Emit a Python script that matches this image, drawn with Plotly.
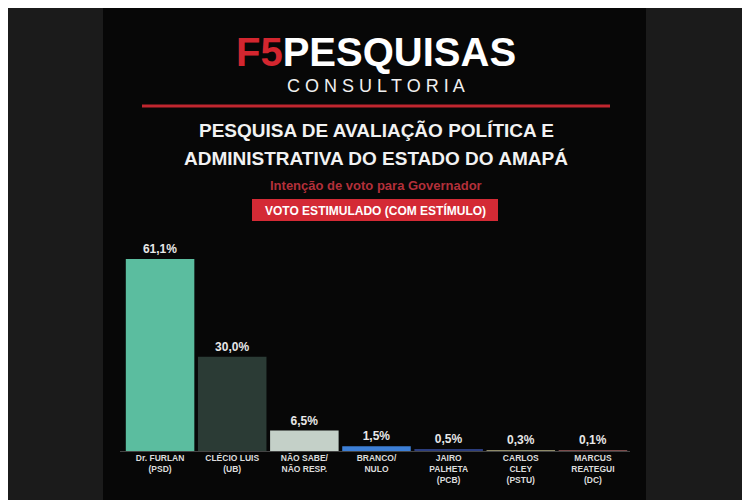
import plotly.graph_objects as go

categories = ["Dr. FURLAN<br>(PSD)", "CLÉCIO LUIS<br>(UB)", "NÃO SABE/<br>NÃO RESP.", "BRANCO/<br>NULO",
              "JAIRO<br>PALHETA<br>(PCB)", "CARLOS<br>CLEY<br>(PSTU)", "MARCUS<br>REATEGUI<br>(DC)"]
values = [61.1, 30.0, 6.5, 1.5, 0.5, 0.3, 0.1]
labels = ["61,1%", "30,0%", "6,5%", "1,5%", "0,5%", "0,3%", "0,1%"]
colors = ["#5bbd9f", "#2b3b35", "#c4d0c8", "#3d7fd6", "#2b3d7e", "#8e8a68", "#7a4b4b"]

OFF = 8
W, H = 750, 500
L, R = 124, 629
T, B = 231, 451
def py(p):
    return (B - p) / (B - T)
def px(p):
    return (p - L) / (R - L)

fig = go.Figure(go.Bar(
    x=list(range(len(values))), y=values, marker=dict(color=colors, line_width=0),
    text=[f"<b>{t}</b>" for t in labels], textposition="outside", cliponaxis=False,
    textfont=dict(color="#e8e8e8", size=12, family="Liberation Sans"),
))

shapes = [
    dict(type="rect", xref="paper", yref="paper", x0=px(103), x1=px(646), y0=py(510), y1=py(-10),
         fillcolor="#070707", line_width=0, layer="below"),
    dict(type="line", xref="paper", yref="paper", x0=px(142), x1=px(610), y0=py(106), y1=py(106),
         line=dict(color="#c0262f", width=3)),
    dict(type="rect", xref="paper", yref="paper", x0=px(252), x1=px(498), y0=py(221), y1=py(199),
         fillcolor="#d42a35", line_width=0),
    dict(type="line", xref="paper", yref="paper", x0=px(120), x1=px(630), y0=py(451.5), y1=py(451.5),
         line=dict(color="#444", width=1)),
]

def ann(x, y, text, size, color, family="Liberation Sans", bold=True):
    return dict(xref="paper", yref="paper", x=px(x), y=py(y), text=(f"<b>{text}</b>" if bold else text),
                showarrow=False, font=dict(size=size, color=color, family=family),
                xanchor="center", yanchor="middle")

annotations = [
    ann(376, 52, "<span style='color:#d3262f'>F5</span>PESQUISAS", 40, "#ffffff",
        family="Liberation Sans Narrow, Liberation Sans"),
    ann(376, 86, "C O N S U L T O R I A", 18, "#f0f0f0", bold=False),
    ann(376, 131, "PESQUISA DE AVALIAÇÃO POLÍTICA E", 19, "#f2f2f2"),
    ann(376, 158, "ADMINISTRATIVA DO ESTADO DO AMAPÁ", 19, "#f2f2f2"),
    ann(376, 185, "Intenção de voto para Governador", 13, "#b3303a"),
    ann(375, 210, "VOTO ESTIMULADO (COM ESTÍMULO)", 12, "#ffffff"),
]

fig.update_layout(
    width=W, height=H, margin=dict(l=L - OFF, r=W - R + OFF, t=T - OFF, b=H - B + OFF),
    paper_bgcolor="#1b1b1b", plot_bgcolor="rgba(0,0,0,0)",
    showlegend=False, bargap=0.05, shapes=shapes, annotations=annotations,
    xaxis=dict(tickvals=list(range(len(values))), ticktext=[f"<b>{c}</b>" for c in categories],
               tickfont=dict(size=8.5, color="#dcdcdc", family="Liberation Sans"),
               showgrid=False, zeroline=False, showline=False, ticks="", range=[-0.5, 6.5]),
    yaxis=dict(range=[0, 70], visible=False, showgrid=False),
)
fig.write_html("out.html")
